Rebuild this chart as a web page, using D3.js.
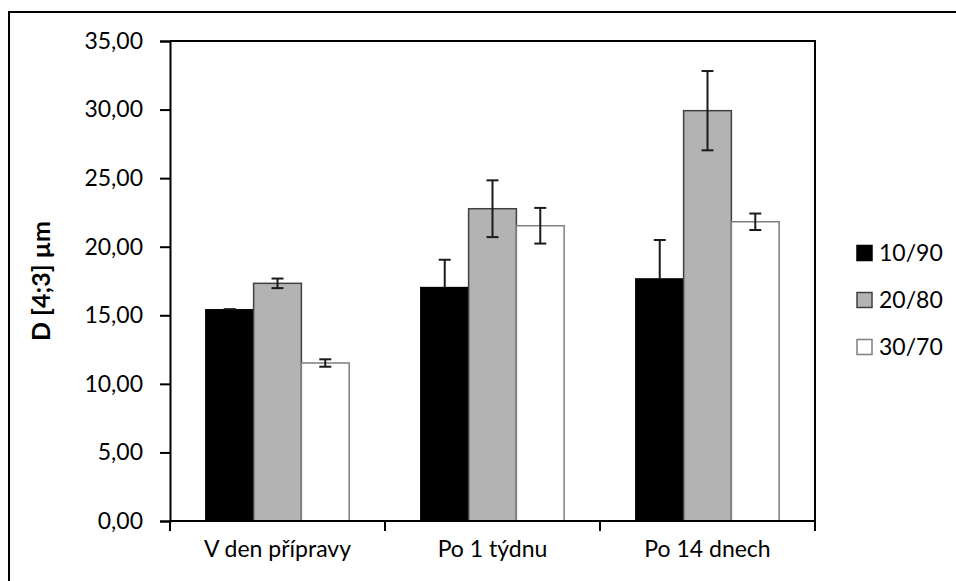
<!DOCTYPE html>
<html>
<head>
<meta charset="utf-8">
<script src="https://cdn.jsdelivr.net/npm/d3@7"></script>
<style>
  html, body { margin: 0; padding: 0; background: #fff; }
  svg { display: block; font-family: Lato, "Open Sans", sans-serif; }
</style>
</head>
<body>
<svg id="chart" width="956" height="581"></svg>
<script>
// Mean particle size D[4;3] for three ratios at three time points
const categories = ["V den přípravy", "Po 1 týdnu", "Po 14 dnech"];
const seriesNames = ["10/90", "20/80", "30/70"];
const values1090 = [15.40, 17.02, 17.65];
const values2080 = [17.33, 22.77, 29.92];
const values3070 = [11.52, 21.53, 21.82];
const errors1090 = [0.05, 2.03, 2.84];
const errors2080 = [0.35, 2.07, 2.89];
const errors3070 = [0.27, 1.30, 0.60];
const yTicks = [0, 5, 10, 15, 20, 25, 30, 35];
const axisTitle = "D [4;3] µm";

const seriesValues = [values1090, values2080, values3070];
const seriesErrors = [errors1090, errors2080, errors3070];
const fills = ["#000000", "#b3b3b3", "#ffffff"];
const strokes = ["#000000", "#404040", "#7f7f7f"];
// the lower whisker of the black series disappears into its own fill
const showLower = [false, true, true];

const svg = d3.select("#chart");
const plot = { left: 170, top: 41, right: 815, bottom: 521 };

const x0 = d3.scaleBand().domain(categories).range([plot.left, plot.right]);
// Excel-style 150% gap: three bars plus 1.5 bar widths of gap per category
const barW = x0.bandwidth() / 4.5;
const x1 = d3.scaleBand().domain(seriesNames)
  .range([barW * 0.75, barW * 3.75]);
const y = d3.scaleLinear().domain([0, 35]).range([plot.bottom, plot.top]);

const fmt = d3.formatLocale({ decimal: ",", thousands: " ", grouping: [3], currency: ["", ""] }).format(".2f");

// outer chart frame
svg.append("rect")
  .attr("x", 9).attr("y", 12).attr("width", 960).attr("height", 600)
  .attr("fill", "none").attr("stroke", "#000").attr("stroke-width", 2);

// bars
const rows = [];
categories.forEach((c, ci) => {
  seriesNames.forEach((s, si) => {
    rows.push({ c, s, si, v: seriesValues[si][ci], e: seriesErrors[si][ci] });
  });
});

svg.append("g").selectAll("rect").data(rows).join("rect")
  .attr("x", d => x0(d.c) + x1(d.s))
  .attr("y", d => y(d.v))
  .attr("width", x1.bandwidth())
  .attr("height", d => y(0) - y(d.v))
  .attr("fill", d => fills[d.si])
  .attr("stroke", d => strokes[d.si])
  .attr("stroke-width", 1.5);

// error bars
const eg = svg.append("g").attr("stroke", "#1a1a1a").attr("stroke-width", 2);
rows.forEach(d => {
  const cx = x0(d.c) + x1(d.s) + x1.bandwidth() / 2;
  const lo = showLower[d.si] ? d.v - d.e : d.v;
  eg.append("line").attr("x1", cx).attr("x2", cx)
    .attr("y1", y(lo)).attr("y2", y(d.v + d.e));
  const caps = showLower[d.si] ? [d.v - d.e, d.v + d.e] : [d.v + d.e];
  caps.forEach(t => {
    eg.append("line").attr("x1", cx - 6).attr("x2", cx + 6)
      .attr("y1", y(t)).attr("y2", y(t));
  });
});

// plot area top/right border
svg.append("path")
  .attr("d", `M${plot.left},${plot.top}H${plot.right}V${plot.bottom}`)
  .attr("fill", "none").attr("stroke", "#000").attr("stroke-width", 2);

// y axis
const yAxis = d3.axisLeft(y).tickValues(yTicks).tickFormat(fmt).tickSizeOuter(0).tickSize(10).tickPadding(17);
const gy = svg.append("g").attr("transform", `translate(${plot.left},0)`).call(yAxis);
gy.select(".domain").attr("stroke", "#000").attr("stroke-width", 2);
gy.selectAll(".tick line").attr("stroke", "#000").attr("stroke-width", 2);
gy.selectAll(".tick text").attr("font-size", 23).attr("font-family", "Lato").attr("fill", "#000");

// x axis: line, boundary ticks, category labels
const gx = svg.append("g");
gx.append("line").attr("x1", plot.left).attr("x2", plot.right)
  .attr("y1", plot.bottom).attr("y2", plot.bottom)
  .attr("stroke", "#000").attr("stroke-width", 2);
const bounds = categories.map(c => x0(c)).concat([x0(categories[categories.length - 1]) + x0.bandwidth()]);
gx.selectAll("line.tk").data(bounds).join("line").attr("class", "tk")
  .attr("x1", d => d).attr("x2", d => d)
  .attr("y1", plot.bottom).attr("y2", plot.bottom + 10)
  .attr("stroke", "#000").attr("stroke-width", 2);
gx.selectAll("text").data(categories).join("text")
  .attr("x", d => x0(d) + x0.bandwidth() / 2)
  .attr("y", 557)
  .attr("text-anchor", "middle")
  .attr("font-size", 23)
  .attr("fill", "#000")
  .text(d => d);

// axis title
svg.append("text")
  .attr("transform", "translate(50,281) rotate(-90)")
  .attr("text-anchor", "middle")
  .attr("font-size", 25)
  .attr("font-weight", "bold")
  .attr("fill", "#000")
  .text(axisTitle);

// legend
const legendY = [253, 300, 347];
const lg = svg.append("g");
seriesNames.forEach((s, i) => {
  lg.append("rect")
    .attr("x", 857).attr("y", legendY[i] - 7.5).attr("width", 15).attr("height", 15)
    .attr("fill", fills[i]).attr("stroke", strokes[i]).attr("stroke-width", 1.5);
  lg.append("text")
    .attr("x", 879).attr("y", legendY[i]).attr("dy", "0.36em")
    .attr("font-size", 23).attr("fill", "#000")
    .text(s);
});
</script>
</body>
</html>
